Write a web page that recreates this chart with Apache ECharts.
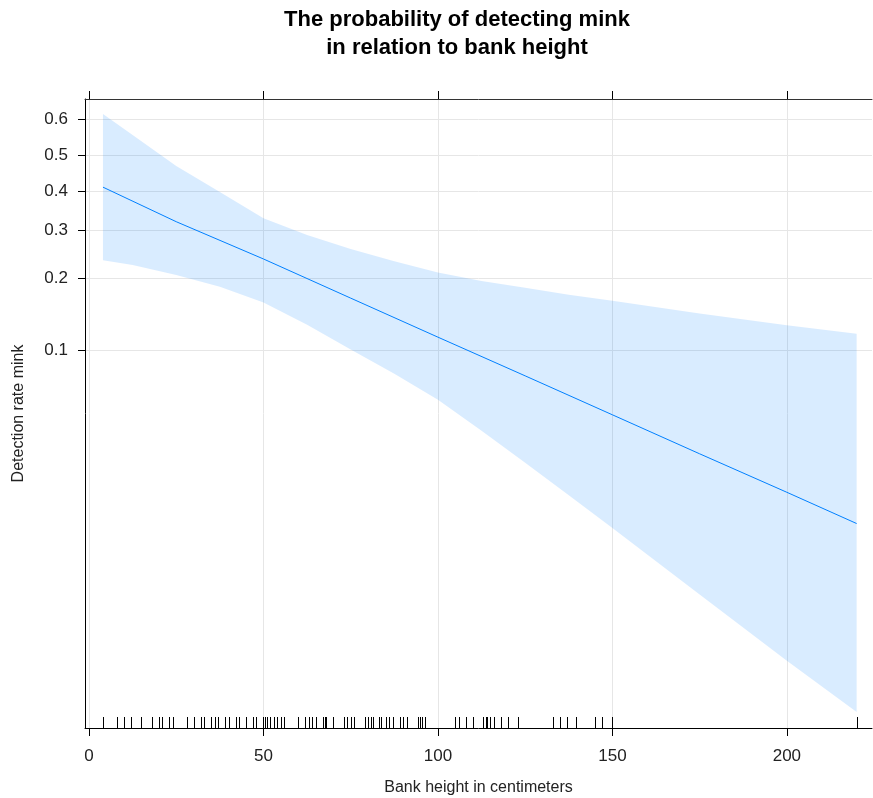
<!DOCTYPE html>
<html>
<head>
<meta charset="utf-8">
<script src="https://cdn.jsdelivr.net/npm/echarts@6/dist/echarts.min.js"></script>
<style>html,body{margin:0;padding:0;background:#fff}#chart{width:873px;height:798px}</style>
</head>
<body>
<div id="chart"></div>
<script>
// Fitted line: bank height (cm) and probability of detection
var fitHeight = [4, 25, 50, 75, 100, 125, 150, 175, 200, 220];
var fitProb = [0.411, 0.321, 0.237, 0.1665, 0.114, 0.0768, 0.0509, 0.0334, 0.0219, 0.0155];
// Confidence band: bank height (cm), upper and lower probability
var bandHeight = [4, 12.5, 25, 37.5, 50, 62.5, 75, 87.5, 100, 112.5, 125, 137.5, 150, 175, 200, 220];
var upperProb = [0.614, 0.557, 0.470, 0.398, 0.3297, 0.2895, 0.2581, 0.2322, 0.2104, 0.1952, 0.1832, 0.1717, 0.1623, 0.1440, 0.1284, 0.1178];
var lowerProb = [0.2346, 0.2251, 0.2061, 0.1849, 0.1596, 0.1288, 0.1006, 0.0784, 0.0597, 0.0429, 0.0303, 0.0212, 0.01475, 0.00703, 0.00334, 0.00188];
// Rug: observed bank heights
var rugValues = [4, 8, 10, 12, 15, 18, 20, 21, 23, 24, 28, 30, 32, 33, 35, 36, 37, 39, 40, 42, 43, 45, 47, 48,
  50, 50.5, 51, 52, 53, 54, 55, 56, 60, 62, 63, 64, 65, 67, 67.6, 68, 70, 73, 74, 75, 76, 79, 80, 80.7, 81.3,
  83, 83.6, 85, 86, 87, 89, 90, 91, 94.4, 94.8, 95.3, 96.3, 105, 106, 108, 110, 113, 113.7, 114.2, 115, 116,
  118, 120, 123, 133, 135, 137, 139.7, 145, 147, 150, 220];
// Tick labels
var xTicks = [0, 50, 100, 150, 200];
var yTicks = [0.1, 0.2, 0.3, 0.4, 0.5, 0.6];

function logit(p) { return Math.log(p / (1 - p)); }
function invlogit(v) { return 1 / (1 + Math.exp(-v)); }

var X_MIN = -1.15, X_MAX = 224.4, Y_MIN = -6.456, Y_MAX = 0.634;
var yTickLogit = yTicks.map(logit);

var chart = echarts.init(document.getElementById('chart'), null, {renderer: 'canvas'});
var font = 'Liberation Sans, Arial, sans-serif';

chart.setOption({
  animation: false,
  backgroundColor: '#fff',
  title: {
    text: 'The probability of detecting mink\nin relation to bank height',
    left: 452, top: 1, textAlign: 'center',
    textStyle: {fontFamily: font, fontWeight: 'bold', fontSize: 22, color: '#000', lineHeight: 28}
  },
  grid: {left: 85, top: 99, right: 1, bottom: 70, containLabel: false, outerBoundsMode: 'none'},
  xAxis: [{
    type: 'value', min: X_MIN, max: X_MAX, position: 'bottom',
    name: 'Bank height in centimeters', nameLocation: 'middle', nameGap: 52,
    nameTextStyle: {fontFamily: font, fontSize: 16, color: '#222'},
    axisLine: {show: true, onZero: false, lineStyle: {color: '#000', width: 1}},
    axisTick: {show: true, inside: false, length: 8, customValues: xTicks, lineStyle: {color: '#000'}},
    axisLabel: {show: true, margin: 20, customValues: xTicks, fontFamily: font, fontSize: 17, color: '#222'},
    splitLine: {show: true, lineStyle: {color: '#e6e6e6', width: 1}}
  }, {
    type: 'value', min: X_MIN, max: X_MAX, position: 'top',
    axisLine: {show: true, onZero: false, lineStyle: {color: '#333', width: 1}},
    axisTick: {show: true, inside: false, length: 8, customValues: xTicks, lineStyle: {color: '#000'}},
    axisLabel: {show: false},
    splitLine: {show: false}
  }],
  yAxis: [{
    type: 'value', min: Y_MIN, max: Y_MAX, position: 'left',
    name: 'Detection rate mink', nameLocation: 'middle', nameGap: 58, nameRotate: 90,
    nameTextStyle: {fontFamily: font, fontSize: 16, color: '#222'},
    axisLine: {show: true, onZero: false, lineStyle: {color: '#000', width: 1}},
    axisTick: {show: true, inside: false, length: 7, customValues: yTickLogit, lineStyle: {color: '#000'}},
    axisLabel: {show: true, margin: 17, customValues: yTickLogit, fontFamily: font, fontSize: 17, color: '#222',
      formatter: function (v) { return invlogit(v).toFixed(1); }},
    splitLine: {show: true, lineStyle: {color: '#e6e6e6', width: 1}}
  }],
  series: [{
    type: 'custom',
    name: 'band',
    data: [[bandHeight[0], logit(upperProb[0])]],
    silent: true,
    z: 2,
    renderItem: function (params, api) {
      var pts = [];
      for (var i = 0; i < bandHeight.length; i++) pts.push(api.coord([bandHeight[i], logit(upperProb[i])]));
      for (var j = bandHeight.length - 1; j >= 0; j--) pts.push(api.coord([bandHeight[j], logit(lowerProb[j])]));
      return {type: 'polygon', shape: {points: pts}, style: {fill: 'rgba(0,128,255,0.15)', stroke: null}};
    }
  }, {
    type: 'line',
    name: 'fit',
    data: fitHeight.map(function (x, i) { return [x, logit(fitProb[i])]; }),
    symbol: 'none', smooth: false,
    lineStyle: {color: '#0080ff', width: 1},
    z: 3
  }, {
    type: 'custom',
    name: 'rug',
    data: rugValues.map(function (v) { return [v]; }),
    silent: true,
    z: 4,
    renderItem: function (params, api) {
      var p = api.coord([api.value(0), Y_MIN]);
      var x = Math.round(p[0]) + 0.5;
      return {type: 'line', shape: {x1: x, y1: p[1], x2: x, y2: p[1] - 11},
        style: {stroke: '#000', lineWidth: 1}};
    }
  }]
});
</script>
</body>
</html>
